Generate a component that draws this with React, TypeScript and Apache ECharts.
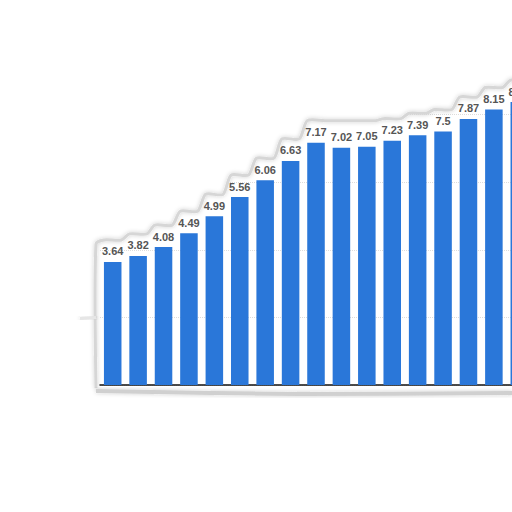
import React, { useEffect, useRef } from "react";
import * as echarts from "echarts";

const categories = ["1", "2", "3", "4", "5", "6", "7", "8", "9", "10", "11", "12", "13", "14", "15", "16", "17"];
const values = [3.64, 3.82, 4.08, 4.49, 4.99, 5.56, 6.06, 6.63, 7.17, 7.02, 7.05, 7.23, 7.39, 7.5, 7.87, 8.15, 8.37];
const yTicks = { min: 0, max: 10, interval: 2 };

export default function App() {
  const ref = useRef<HTMLDivElement>(null);
  useEffect(() => {
    if (!ref.current) return;
    const chart = echarts.init(ref.current, null, { renderer: "svg" });
    chart.setOption({
      animation: false,
      backgroundColor: "#ffffff",
      grid: { left: 100, top: 47, right: 28, bottom: 127 },
      xAxis: {
        type: "category",
        data: categories,
        axisLine: { show: true, lineStyle: { color: "#111", width: 1.5 } },
        axisTick: { show: false },
        axisLabel: { show: false },
      },
      yAxis: {
        type: "value",
        min: yTicks.min,
        max: yTicks.max,
        interval: yTicks.interval,
        axisLine: { show: false },
        axisTick: { show: false },
        axisLabel: { show: false },
        splitLine: { show: true, lineStyle: { color: "#dddddd", type: "dotted", width: 1 } },
      },
      series: [
        {
          type: "bar",
          data: values,
          barCategoryGap: "31%",
          itemStyle: { color: "#2a77d9" },
          label: {
            show: true,
            position: "top",
            distance: 5,
            color: "#555555",
            fontFamily: "Liberation Sans",
            fontWeight: "bold",
            fontSize: 11,
          },
        },
      ],
    });

    // decorative glow outline (cut-out edge) derived from data positions
    const p0 = chart.convertToPixel({ seriesIndex: 0 }, [0, 0]) as number[];
    const p1 = chart.convertToPixel({ seriesIndex: 0 }, [1, 0]) as number[];
    const band = p1[0] - p0[0];
    const baseY = p0[1];
    const leftX = p0[0] - band / 2 - 4;
    const y2 = (chart.convertToPixel({ seriesIndex: 0 }, [0, 2]) as number[])[1];
    const top: number[][] = [];
    let m = 0;
    values.forEach((v, i) => {
      m = Math.max(m, v);
      const p = chart.convertToPixel({ seriesIndex: 0 }, [i, m]) as number[];
      const y = p[1] - 22;
      top.push([p[0] - band / 2 + 4, y]);
      top.push([p[0] + band / 2 - 4, y]);
    });
    const firstTop = top[0][1];
    const lastX = top[top.length - 1][0] + 40;
    const glow = {
      stroke: "#d6d6d6",
      lineWidth: 3,
      fill: null,
      shadowBlur: 4,
      shadowColor: "rgba(0,0,0,0.2)",
    };
    const contour = [[leftX, firstTop + 4], ...top];
    chart.setOption({
      graphic: [
        {
          type: "polygon",
          z: 1,
          shape: { points: [...contour, [lastX, top[top.length - 1][1]], [lastX, 0], [leftX, 0]], smooth: 0 },
          style: { fill: "#ffffff", stroke: null },
          silent: true,
        },
        {
          type: "polyline",
          z: 1,
          shape: { points: [[leftX, baseY + 3], ...contour], smooth: 0.25 },
          style: glow,
          silent: true,
        },
        {
          type: "polyline",
          z: 1,
          shape: { points: [[leftX, y2], [leftX - 16, y2 + 1]] },
          style: { ...glow, stroke: "#e6e6e6" },
          silent: true,
        },
        {
          type: "polyline",
          z: 1,
          shape: { points: [[leftX, baseY + 6], [300, baseY + 9], [512, baseY + 8]], smooth: 0.3 },
          style: { ...glow, stroke: "#d0d0d0", lineWidth: 4 },
          silent: true,
        },
      ],
    });
    return () => chart.dispose();
  }, []);
  return (
    <div
      ref={ref}
      style={{ position: "fixed", left: 0, top: 0, width: 560, height: 512 }}
    />
  );
}
